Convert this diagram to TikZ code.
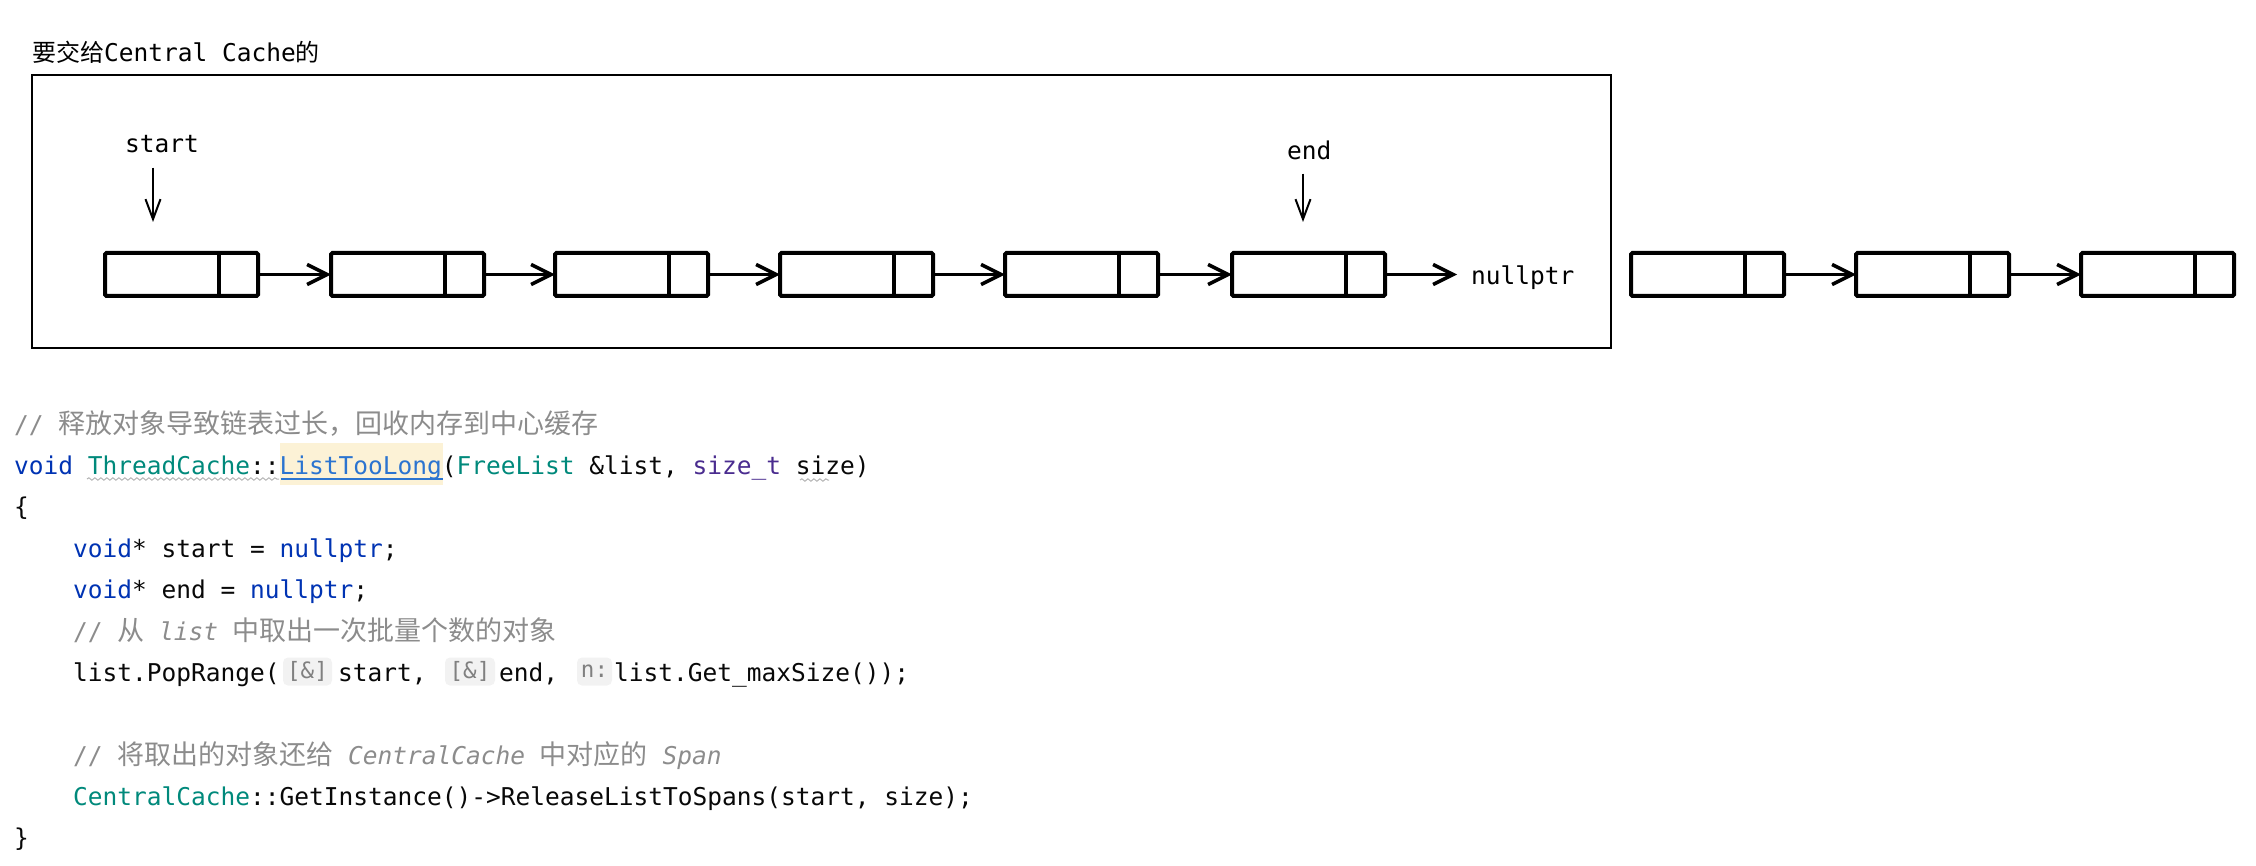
\documentclass[tikz,border=0pt]{standalone}
\usepackage{fontspec}
\usetikzlibrary{arrows.meta,decorations.pathmorphing}
\setmainfont{DejaVu Sans}
\newfontfamily\codefont{DejaVu Sans Mono}
\newfontfamily\cjkfont{Noto Sans CJK SC}
\definecolor{kw}{HTML}{0033B3}
\definecolor{cls}{HTML}{00897B}
\definecolor{fn}{HTML}{2B74D0}
\definecolor{typ}{HTML}{4A2C8F}
\definecolor{cmt}{HTML}{8C8C8C}
\definecolor{txt}{HTML}{080808}
\definecolor{hl}{HTML}{FCF2D6}
\definecolor{hintbg}{HTML}{F2F2F2}
\definecolor{hintfg}{HTML}{808080}
\definecolor{wavy}{HTML}{B4B4B4}
\newcommand\cj[1]{{\cjkfont\fontsize{27}{32}\selectfont #1}}
\newcommand\tcj[1]{{\cjkfont\fontsize{24}{28}\selectfont #1}}
\begin{document}
\begin{tikzpicture}[x=1pt,y=-1pt,
  code/.style={anchor=base west, inner sep=0pt, font=\codefont\fontsize{24.5}{30}\selectfont, text=txt},
  hint/.style={fill=hintbg, rounded corners=5pt, text=hintfg, inner sep=0pt, minimum height=28pt, font=\codefont\fontsize{22.5}{26}\selectfont},
  sk/.style={font=\codefont\fontsize{24.5}{28}\selectfont, inner sep=0pt, anchor=base west, text=black},
  cellbox/.style={draw=black, line width=4pt, minimum width=153pt, minimum height=43pt, inner sep=0pt, outer sep=0pt, rounded corners=1.5pt},
  link/.style={draw=black, line width=3.5pt, -{Straight Barb[length=20pt,width=20pt]}},
  ptr/.style={draw=black, line width=2pt, -{Straight Barb[length=20pt,width=15pt]}},
  frame/.style={draw=black, line width=2.5pt, inner sep=0pt, outer sep=0pt},
  wav/.style={draw=wavy, line width=1pt, decorate, decoration={snake, amplitude=1.2pt, segment length=6pt}}
]
\useasboundingbox (0,0) rectangle (2256,866);

% ---------- diagram ----------
\node[sk] (title) at (32,62) {\tcj{要交给}Central Cache\tcj{的}};
\node[frame, minimum width=1579pt, minimum height=273pt] (frame) at (821.5,211.5) {};

\foreach \i/\x in {1/181.5,2/407.5,3/631.5,4/856.5,5/1081.5,6/1308.5,7/1707.5,8/1932.5,9/2157.5}{
  \node[cellbox] (n\i) at (\x,274.5) {};
  \draw[line width=3.5pt] ([xshift=-39pt]n\i.north east) -- ([xshift=-39pt]n\i.south east);
}
\foreach \a/\b in {1/2,2/3,3/4,4/5,5/6,7/8,8/9}
  \draw[link] (n\a) -- (n\b);

\node[sk] (np) at (1471,285) {nullptr};
\draw[link, shorten >=14pt] (n6.east) -- (n6.east -| np.west);

\node[sk] (startlbl) at (125,153) {start};
\coordinate (sa) at (153,222);
\draw[ptr, shorten <=14pt] (startlbl.south -| sa) -- (sa);

\node[sk] (endlbl) at (1287,160) {end};
\coordinate (ea) at (1303,222);
\draw[ptr, shorten <=13pt] (endlbl.south -| ea) -- (ea);

% ---------- code ----------
\node[code, text=cmt] (l1) at (14,433) {// \cj{释放对象导致链表过长，回收内存到中心缓存}};

\fill[hl] (280,443) rectangle (443,485);
\node[code] (l2) at (14,474) {{\color{kw}void} {\color{cls}ThreadCache}::{\color{fn}ListTooLong}({\color{cls}FreeList} \&list, {\color{typ}size\_t} size)};
\draw[fn, line width=2pt] (281,479) -- (443,479);
\draw[wav] (87,479) -- (279,479);
\draw[wav] (800,480) -- (829,480);

\node[code] (l3) at (14,515) {\{};
\node[code] (l4) at (73,557) {{\color{kw}void}* start = {\color{kw}nullptr};};
\node[code] (l5) at (73,598) {{\color{kw}void}* end = {\color{kw}nullptr};};
\node[code, text=cmt] (l6) at (73,640) {// \cj{从} {\itshape list} \cj{中取出一次批量个数的对象}};

\node[code] (l7a) at (73,681) {list.PopRange(};
\node[hint, minimum width=49pt] (h1) at (307.5,671.5) {[\&]};
\node[code] (l7b) at (338,681) {start,};
\node[hint, minimum width=50pt] (h2) at (470,671.5) {[\&]};
\node[code] (l7c) at (499,681) {end,};
\node[hint, minimum width=35pt] (h3) at (594.5,671.5) {n:};
\node[code] (l7d) at (614,681) {list.Get\_maxSize());};

\node[code, text=cmt] (l9) at (73,764) {// \cj{将取出的对象还给} {\itshape CentralCache} \cj{中对应的} {\itshape Span}};
\node[code] (l10) at (73,805) {{\color{cls}CentralCache}::GetInstance()->ReleaseListToSpans(start, size);};
\node[code] (l11) at (14,846) {\}};
\end{tikzpicture}
\end{document}
